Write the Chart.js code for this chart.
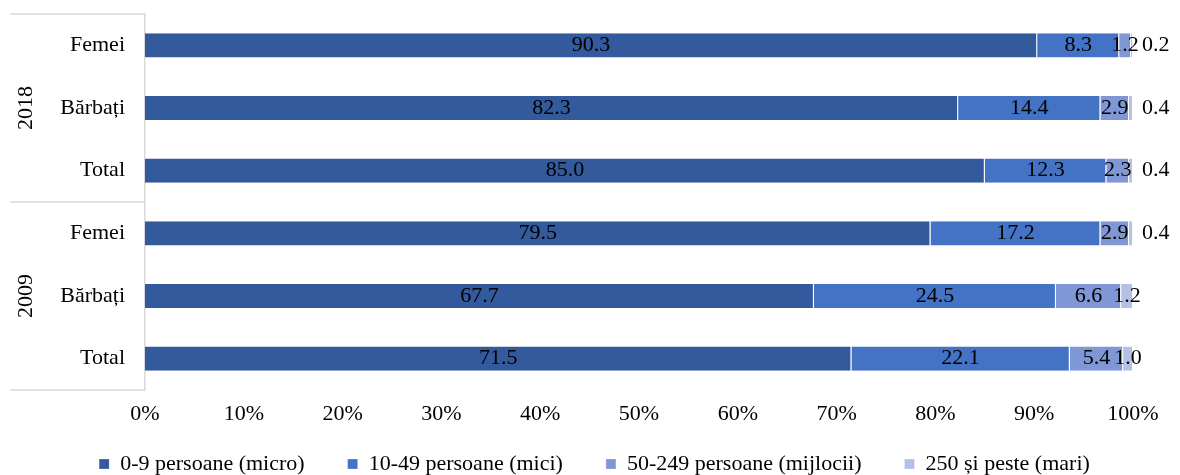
<!DOCTYPE html>
<html>
<head>
<meta charset="utf-8">
<script src="https://cdn.jsdelivr.net/npm/chart.js@4"></script>
<style>
  html, body { margin: 0; padding: 0; background: #fff; }
  #wrap { width: 1180px; height: 475px; }
</style>
</head>
<body>
<div id="wrap"><canvas id="chart"></canvas></div>
<script>
const categories = ["Femei", "Bărbați", "Total", "Femei", "Bărbați", "Total"];
const groups = [
  { label: "2018", from: 0, to: 2 },
  { label: "2009", from: 3, to: 5 }
];
const seriesNames = ["0-9 persoane (micro)", "10-49 persoane (mici)", "50-249 persoane (mijlocii)", "250 și peste (mari)"];
const micro = [90.3, 82.3, 85.0, 79.5, 67.7, 71.5];
const mici = [8.3, 14.4, 12.3, 17.2, 24.5, 22.1];
const mijlocii = [1.2, 2.9, 2.3, 2.9, 6.6, 5.4];
const mari = [0.2, 0.4, 0.4, 0.4, 1.2, 1.0];
const tickValues = [0, 10, 20, 30, 40, 50, 60, 70, 80, 90, 100];

const colors = ["#335A9C", "#4472C4", "#7F97D5", "#B4C1E4"];
const FONT = "'Liberation Serif', 'Times New Roman', serif";
const FS = 22;
const gridGray = "#D9D9D9";

// value labels on the bars
const barLabels = {
  id: "barLabels",
  afterDatasetsDraw(chart) {
    const ctx = chart.ctx;
    ctx.save();
    ctx.font = FS + "px " + FONT;
    ctx.fillStyle = "#000";
    ctx.textBaseline = "middle";
    chart.data.datasets.forEach((ds, di) => {
      const meta = chart.getDatasetMeta(di);
      meta.data.forEach((bar, i) => {
        const v = ds.data[i];
        const txt = v.toFixed(1);
        if (di === 3 && v < 1) {
          ctx.textAlign = "left";
          ctx.fillText(txt, bar.x + 9, bar.y);
        } else {
          ctx.textAlign = "center";
          ctx.fillText(txt, (bar.x + bar.base) / 2, bar.y);
        }
      });
    });
    ctx.restore();
  }
};

// year group labels and separators on the category axis
const groupAxis = {
  id: "groupAxis",
  afterDraw(chart) {
    const ctx = chart.ctx;
    const y = chart.scales.y;
    const area = chart.chartArea;
    const step = y.getPixelForValue(1) - y.getPixelForValue(0);
    ctx.save();
    ctx.strokeStyle = gridGray;
    ctx.lineWidth = 1.5;
    const lines = [area.top];
    groups.forEach(g => lines.push(y.getPixelForValue(g.to) + step / 2));
    lines.forEach(py => {
      ctx.beginPath();
      ctx.moveTo(10, py);
      ctx.lineTo(area.left, py);
      ctx.stroke();
    });
    ctx.font = FS + "px " + FONT;
    ctx.fillStyle = "#000";
    ctx.textAlign = "center";
    ctx.textBaseline = "middle";
    groups.forEach(g => {
      const cy = (y.getPixelForValue(g.from) + y.getPixelForValue(g.to)) / 2;
      ctx.save();
      ctx.translate(26, cy);
      ctx.rotate(-Math.PI / 2);
      ctx.fillText(g.label, 0, 0);
      ctx.restore();
    });
    ctx.restore();
  }
};

const seriesData = [micro, mici, mijlocii, mari];

new Chart(document.getElementById("chart"), {
  type: "bar",
  data: {
    labels: categories,
    datasets: seriesData.map((d, i) => ({
      label: seriesNames[i],
      data: d,
      backgroundColor: colors[i],
      borderColor: "#ffffff",
      borderWidth: { left: 0, right: 1, top: 0, bottom: 0 },
      borderSkipped: false,
      categoryPercentage: 1,
      barPercentage: 0.385
    }))
  },
  options: {
    indexAxis: "y",
    responsive: true,
    maintainAspectRatio: false,
    animation: false,
    layout: { padding: { left: 56, right: 47, top: 14, bottom: -10 } },
    scales: {
      x: {
        stacked: true,
        min: 0,
        max: 100,
        afterBuildTicks(scale) {
          scale.ticks = tickValues.map(v => ({ value: v }));
        },
        afterFit(scale) {
          scale.height = 53;
          scale.paddingLeft = 0;
          scale.paddingRight = 0;
        },
        grid: { display: false, drawTicks: false },
        border: { display: false },
        ticks: {
          padding: 11,
          color: "#000",
          font: { family: FONT, size: FS },
          maxRotation: 0,
          callback: v => v + "%"
        }
      },
      y: {
        stacked: true,
        afterFit(scale) {
          scale.width = 89;
          scale.paddingTop = 0;
          scale.paddingBottom = 0;
        },
        grid: { display: false, drawTicks: false },
        border: { display: true, color: gridGray, width: 1.5 },
        ticks: {
          padding: 20,
          color: "#000",
          font: { family: FONT, size: FS }
        }
      }
    },
    plugins: {
      legend: {
        position: "bottom",
        labels: {
          boxWidth: 10,
          boxHeight: 10,
          padding: 10,
          color: "#000",
          font: { family: FONT, size: FS },
          generateLabels(chart) {
            const items = Chart.defaults.plugins.legend.labels.generateLabels(chart);
            items.forEach((it, i) => {
              if (i < items.length - 1) it.text = it.text + "\u2003\u2002";
            });
            return items;
          }
        }
      },
      tooltip: { enabled: false }
    }
  },
  plugins: [barLabels, groupAxis]
});
</script>
</body>
</html>
